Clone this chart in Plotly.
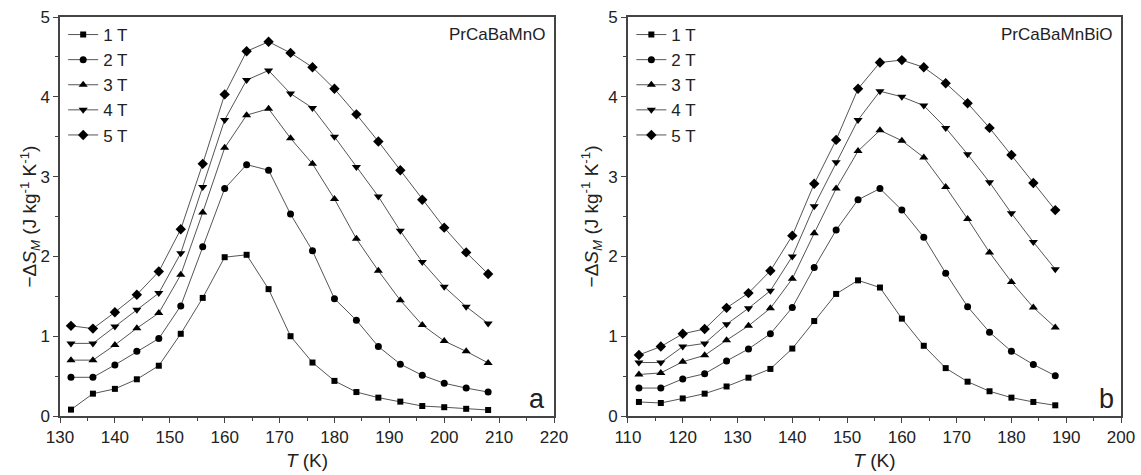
import plotly.graph_objects as go

# ---------------- data ----------------
T_a = [132, 136, 140, 144, 148, 152, 156, 160, 164, 168, 172, 176, 180, 184, 188, 192, 196, 200, 204, 208]
a_1T = [0.08, 0.28, 0.34, 0.46, 0.63, 1.03, 1.48, 1.99, 2.02, 1.59, 1.00, 0.67, 0.44, 0.30, 0.23, 0.18, 0.125, 0.11, 0.09, 0.075]
a_2T = [0.485, 0.485, 0.64, 0.81, 0.97, 1.38, 2.12, 2.85, 3.15, 3.08, 2.53, 2.07, 1.47, 1.20, 0.87, 0.65, 0.51, 0.41, 0.35, 0.30]
a_3T = [0.70, 0.70, 0.89, 1.10, 1.29, 1.77, 2.55, 3.36, 3.77, 3.85, 3.48, 3.16, 2.72, 2.22, 1.82, 1.45, 1.14, 0.94, 0.81, 0.665]
a_4T = [0.91, 0.91, 1.12, 1.33, 1.54, 2.04, 2.87, 3.71, 4.21, 4.33, 4.04, 3.86, 3.50, 3.12, 2.75, 2.32, 1.93, 1.62, 1.37, 1.16]
a_5T = [1.13, 1.095, 1.30, 1.52, 1.81, 2.34, 3.16, 4.03, 4.57, 4.69, 4.55, 4.37, 4.10, 3.78, 3.44, 3.08, 2.71, 2.36, 2.05, 1.78]

T_b = [112, 116, 120, 124, 128, 132, 136, 140, 144, 148, 152, 156, 160, 164, 168, 172, 176, 180, 184, 188]
b_1T = [0.176, 0.163, 0.22, 0.28, 0.37, 0.48, 0.59, 0.845, 1.19, 1.53, 1.70, 1.61, 1.22, 0.88, 0.60, 0.43, 0.31, 0.23, 0.176, 0.134]
b_2T = [0.35, 0.35, 0.465, 0.53, 0.69, 0.84, 1.03, 1.36, 1.86, 2.33, 2.71, 2.85, 2.58, 2.24, 1.79, 1.37, 1.05, 0.81, 0.645, 0.505]
b_3T = [0.52, 0.54, 0.68, 0.76, 0.95, 1.13, 1.35, 1.72, 2.29, 2.85, 3.32, 3.58, 3.45, 3.24, 2.87, 2.47, 2.05, 1.68, 1.36, 1.11]
b_4T = [0.67, 0.67, 0.87, 0.91, 1.15, 1.35, 1.57, 2.00, 2.63, 3.18, 3.71, 4.07, 4.00, 3.89, 3.61, 3.28, 2.93, 2.54, 2.18, 1.84]
b_5T = [0.765, 0.87, 1.03, 1.09, 1.355, 1.54, 1.82, 2.26, 2.91, 3.46, 4.10, 4.43, 4.46, 4.37, 4.17, 3.92, 3.61, 3.27, 2.92, 2.58]

field_labels = ["1 T", "2 T", "3 T", "4 T", "5 T"]
symbols = ["square", "circle", "triangle-up", "triangle-down", "diamond"]
sizes = [6, 7, 8, 8, 8]

FONT = "Liberation Sans, Arial, sans-serif"
LINE_COL = "#555555"
TXT = "#222222"

fig = go.Figure()

for i, (lab, ys) in enumerate(zip(field_labels, [a_1T, a_2T, a_3T, a_4T, a_5T])):
    fig.add_trace(go.Scatter(
        x=T_a, y=ys, mode="lines+markers", name=lab,
        line=dict(color=LINE_COL, width=1),
        marker=dict(symbol=symbols[i], size=sizes[i], color="black"),
        xaxis="x", yaxis="y", legend="legend", showlegend=True))

for i, (lab, ys) in enumerate(zip(field_labels, [b_1T, b_2T, b_3T, b_4T, b_5T])):
    fig.add_trace(go.Scatter(
        x=T_b, y=ys, mode="lines+markers", name=lab,
        line=dict(color=LINE_COL, width=1),
        marker=dict(symbol=symbols[i], size=sizes[i], color="black"),
        xaxis="x2", yaxis="y2", legend="legend2", showlegend=True))

axis_common = dict(
    showgrid=False, zeroline=False, showline=True, linecolor="#444444", linewidth=1.5,
    mirror=True, ticks="outside", ticklen=5, tickwidth=1, tickcolor="#444444",
    tickfont=dict(family=FONT, size=17, color=TXT), automargin=False,
)
minor_x = dict(ticks="outside", ticklen=3, tickwidth=1, tickcolor="#444444", dtick=5)
minor_y = dict(ticks="outside", ticklen=3, tickwidth=1, tickcolor="#444444", dtick=0.5)

ytitle = "−Δ<i>S</i><sub><i>M</i></sub> (J kg<sup>-1</sup> K<sup>-1</sup>)"
xtitle = "<i>T</i> (K)"
title_font = dict(family=FONT, size=19, color=TXT)

legend_common = dict(xanchor="left", yanchor="top", bgcolor="rgba(0,0,0,0)",
                     font=dict(family=FONT, size=17, color=TXT), tracegroupgap=0)

fig.update_layout(
    width=1141, height=475,
    margin=dict(l=60, r=20, t=17, b=59, autoexpand=False),
    paper_bgcolor="white", plot_bgcolor="white",
    font=dict(family=FONT, color=TXT),
    xaxis=dict(domain=[0, 0.4656], range=[130, 220], tickmode="linear", tick0=130, dtick=10,
               minor=minor_x, title=dict(text=xtitle, font=title_font, standoff=8), anchor="y",
               **axis_common),
    yaxis=dict(range=[0, 5], tickmode="linear", tick0=0, dtick=1,
               minor=minor_y, anchor="x", **axis_common),
    xaxis2=dict(domain=[0.5353, 1], range=[110, 200], tickmode="linear", tick0=110, dtick=10,
                minor=minor_x, title=dict(text=xtitle, font=title_font, standoff=8), anchor="y2",
                **axis_common),
    yaxis2=dict(range=[0, 5], tickmode="linear", tick0=0, dtick=1,
                minor=minor_y, anchor="x2", **axis_common),
    legend=dict(x=0.003, y=1.0, **legend_common),
    legend2=dict(x=0.5385, y=1.0, **legend_common),
    annotations=[
        dict(text=ytitle, x=0, y=0.5, xref="x domain", yref="y domain",
             xanchor="center", yanchor="middle", xshift=-30, textangle=-90,
             showarrow=False, font=title_font),
        dict(text=ytitle, x=0, y=0.5, xref="x2 domain", yref="y2 domain",
             xanchor="center", yanchor="middle", xshift=-36, textangle=-90,
             showarrow=False, font=title_font),
        dict(text="PrCaBaMnO", x=0.985, y=0.985, xref="x domain", yref="y domain",
             xanchor="right", yanchor="top", showarrow=False,
             font=dict(family=FONT, size=17, color=TXT)),
        dict(text="a", x=0.985, y=0.0, xref="x domain", yref="y domain",
             xanchor="right", yanchor="bottom", showarrow=False,
             font=dict(family=FONT, size=27, color=TXT)),
        dict(text="PrCaBaMnBiO", x=0.985, y=0.985, xref="x2 domain", yref="y2 domain",
             xanchor="right", yanchor="top", showarrow=False,
             font=dict(family=FONT, size=17, color=TXT)),
        dict(text="b", x=0.99, y=0.0, xref="x2 domain", yref="y2 domain",
             xanchor="right", yanchor="bottom", showarrow=False,
             font=dict(family=FONT, size=27, color=TXT)),
    ],
)

fig.write_html("out.html")
